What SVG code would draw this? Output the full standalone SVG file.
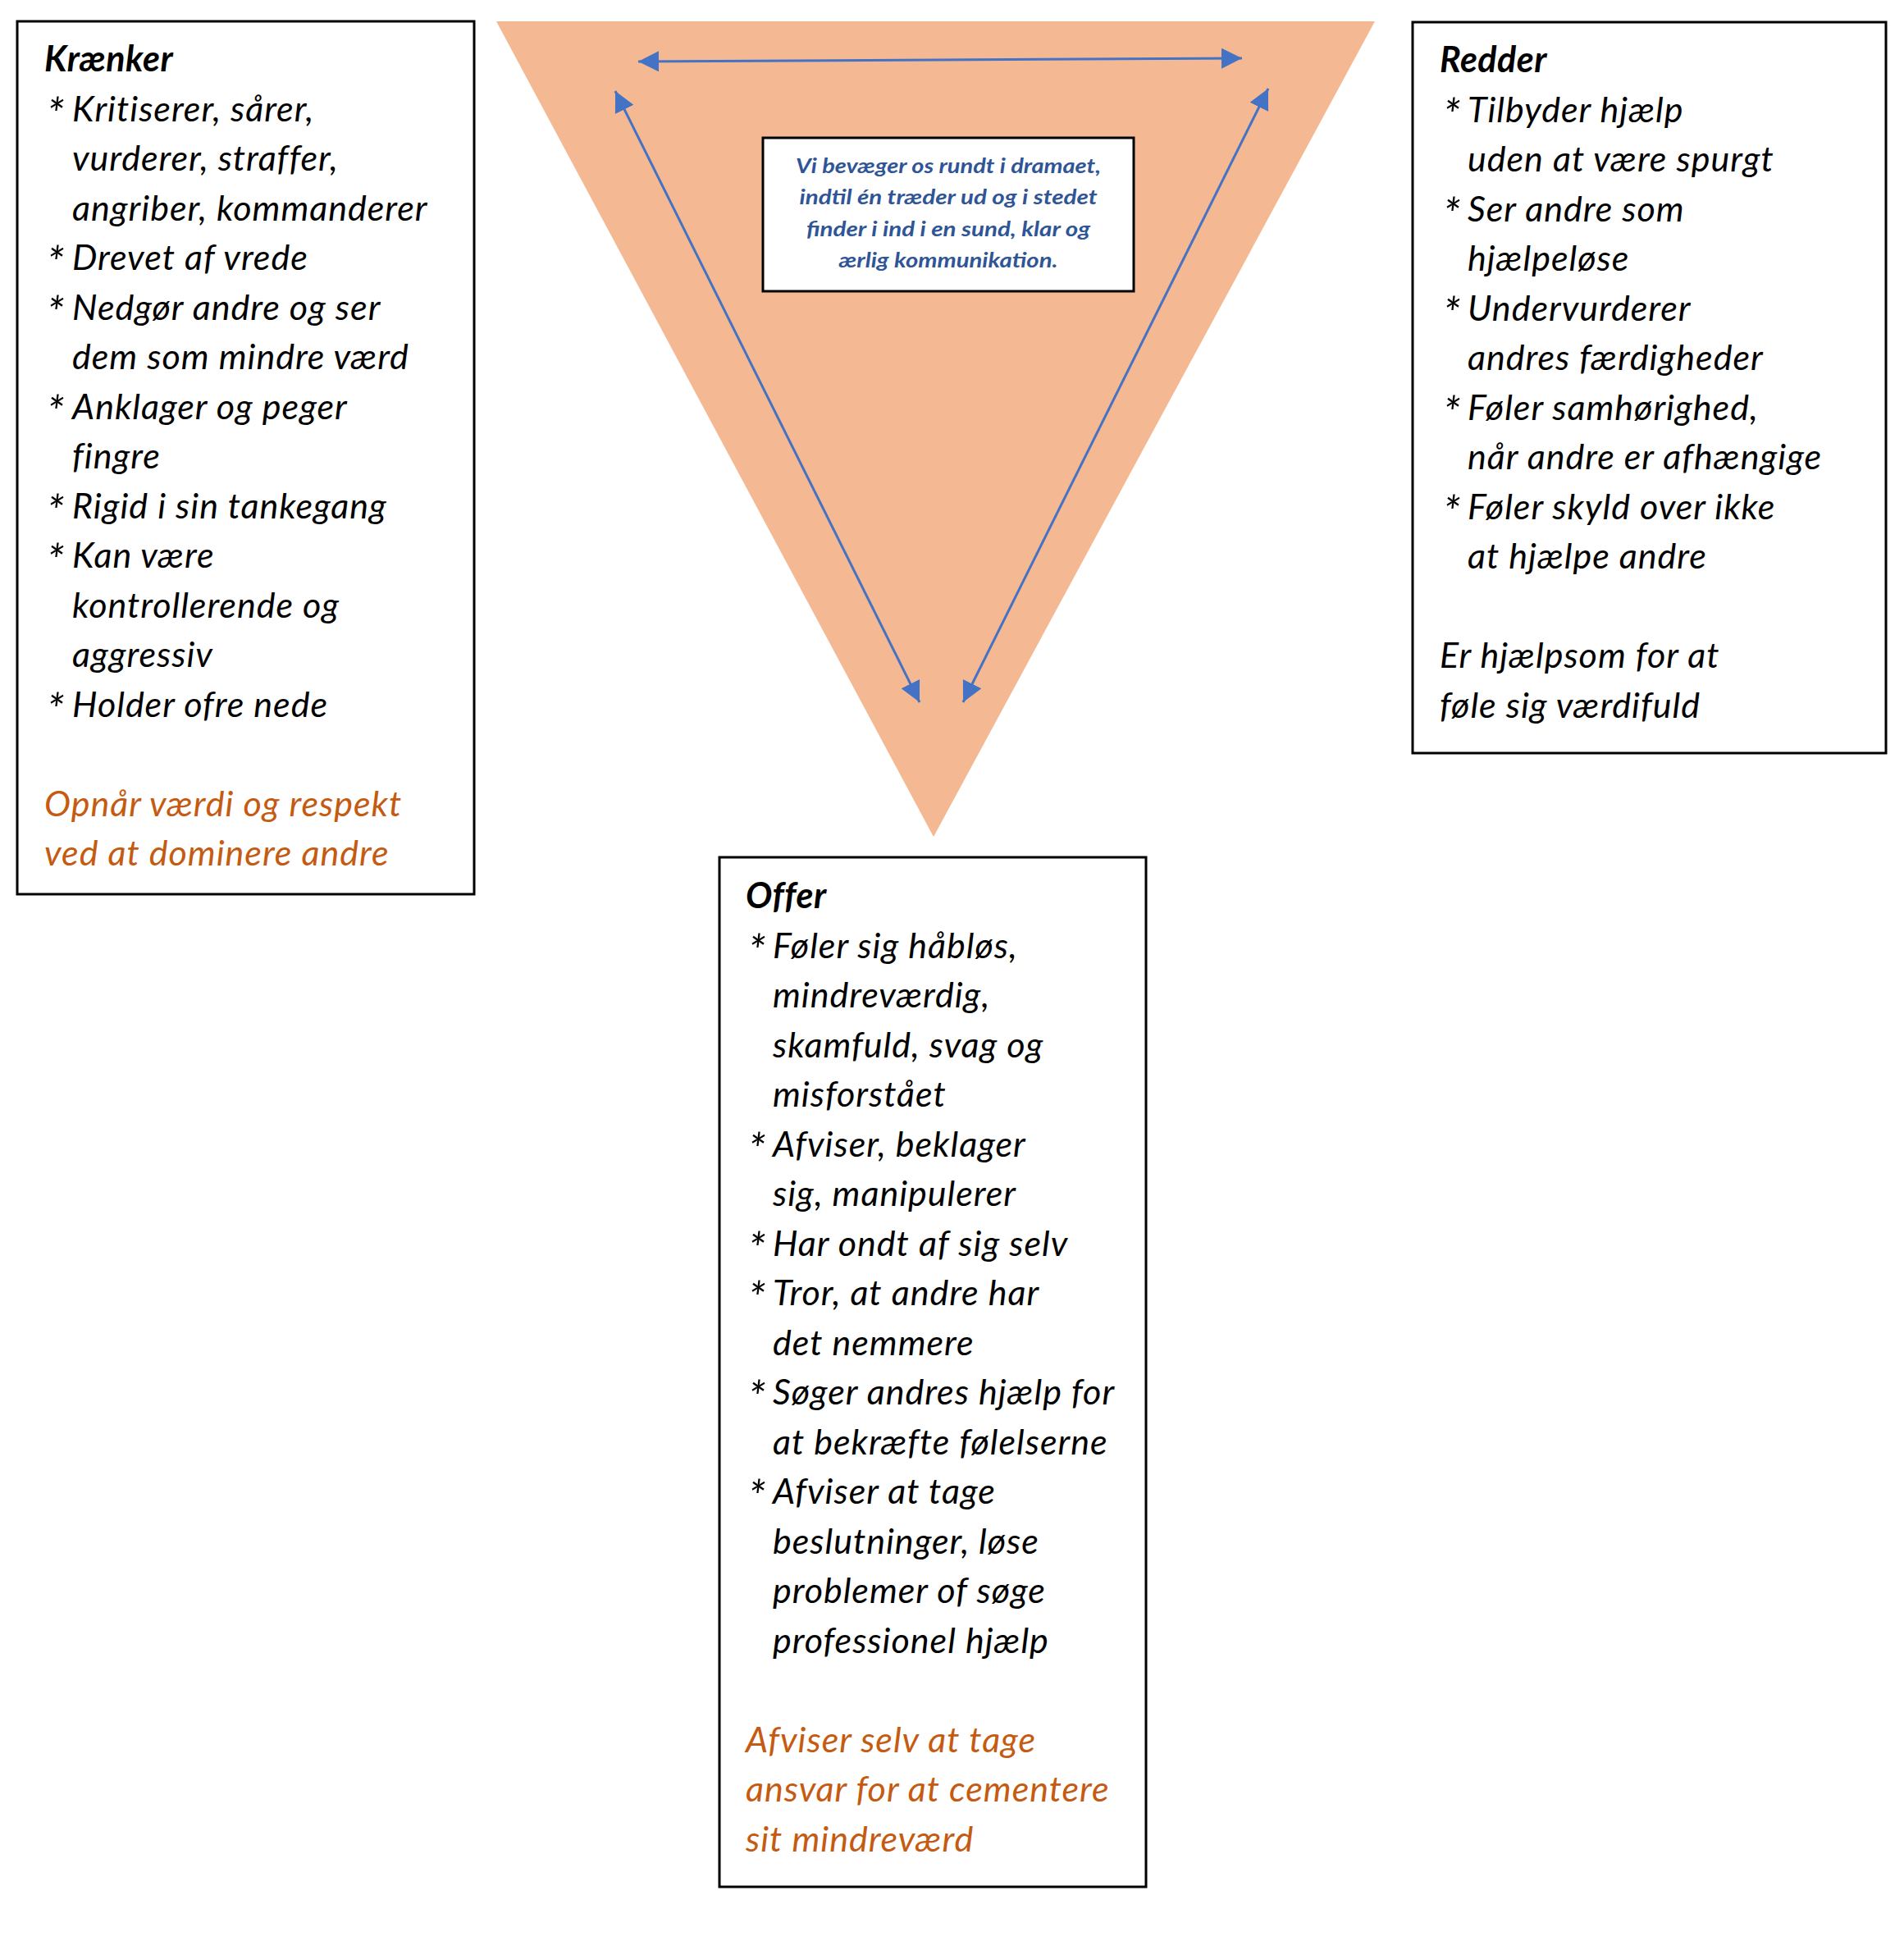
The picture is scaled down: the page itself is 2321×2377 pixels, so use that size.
<svg xmlns="http://www.w3.org/2000/svg" width="2321" height="2377" viewBox="0 0 2321 2377">
<defs>
<style>
.box{fill:#fff;stroke:#000;stroke-width:3}
.t{font-family:Lato,"Open Sans","Liberation Sans",sans-serif;font-style:italic;font-size:43px;letter-spacing:1px;fill:#000}
.s{font-size:54px;letter-spacing:0}
.b{font-weight:bold;letter-spacing:0.5px}
.o{fill:#C55A11}
.c{font-family:Lato,"Open Sans","Liberation Sans",sans-serif;font-style:italic;font-weight:bold;font-size:24px;fill:#2F5597;text-anchor:middle}
.arrow{stroke:#4472C4;stroke-width:3;fill:none}
</style>
<marker id="ah" viewBox="0 0 25 25" refX="25" refY="12.5" markerWidth="25" markerHeight="25" markerUnits="userSpaceOnUse" orient="auto-start-reverse">
<path d="M0,0 L25,12.5 L0,25 z" fill="#4472C4"/>
</marker>
</defs>
<rect width="2321" height="2377" fill="#fff"/>
<g id="triangle">
<polygon points="605,26 1676,26 1138,1020" fill="#F4B993"/>
</g>
<g id="connectors">
<line class="arrow" x1="778" y1="75" x2="1514" y2="71" stroke="#5068AC" marker-start="url(#ah)" marker-end="url(#ah)"/>
<line class="arrow" x1="750" y1="111" x2="1121" y2="856" marker-start="url(#ah)" marker-end="url(#ah)"/>
<line class="arrow" x1="1546" y1="108" x2="1174" y2="856" marker-start="url(#ah)" marker-end="url(#ah)"/>
</g>
<g id="center-note">
<rect x="930" y="168" width="452" height="187" class="box"/>
<text class="c" x="1156" y="211" textLength="372" lengthAdjust="spacingAndGlyphs">Vi bevæger os rundt i dramaet,</text>
<text class="c" x="1156" y="249" textLength="363" lengthAdjust="spacingAndGlyphs">indtil én træder ud og i stedet</text>
<text class="c" x="1156" y="288" textLength="346" lengthAdjust="spacingAndGlyphs">finder i ind i en sund, klar og</text>
<text class="c" x="1156" y="326" textLength="267" lengthAdjust="spacingAndGlyphs">ærlig kommunikation.</text>
</g>
<g id="kraenker">
<rect x="21" y="26" width="557" height="1064" class="box"/>
<text class="t b" x="54" y="87">Krænker</text>
<text class="t" x="57" y="158.5"><tspan class="s">*</tspan> <tspan x="88" y="147.5">Kritiserer, sårer,</tspan></text>
<text class="t" x="88" y="208">vurderer, straffer,</text>
<text class="t" x="88" y="268.5">angriber, kommanderer</text>
<text class="t" x="57" y="340"><tspan class="s">*</tspan> <tspan x="88" y="329">Drevet af vrede</tspan></text>
<text class="t" x="57" y="400.5"><tspan class="s">*</tspan> <tspan x="88" y="389.5">Nedgør andre og ser</tspan></text>
<text class="t" x="88" y="450">dem som mindre værd</text>
<text class="t" x="57" y="521.5"><tspan class="s">*</tspan> <tspan x="88" y="510.5">Anklager og peger</tspan></text>
<text class="t" x="88" y="571">fingre</text>
<text class="t" x="57" y="642.5"><tspan class="s">*</tspan> <tspan x="88" y="631.5">Rigid i sin tankegang</tspan></text>
<text class="t" x="57" y="703"><tspan class="s">*</tspan> <tspan x="88" y="692">Kan være</tspan></text>
<text class="t" x="88" y="752.5">kontrollerende og</text>
<text class="t" x="88" y="813">aggressiv</text>
<text class="t" x="57" y="884.5"><tspan class="s">*</tspan> <tspan x="88" y="873.5">Holder ofre nede</tspan></text>
<text class="t o" x="54" y="994.5">Opnår værdi og respekt</text>
<text class="t o" x="54" y="1055">ved at dominere andre</text>
</g>
<g id="redder">
<rect x="1722" y="27" width="577" height="891" class="box"/>
<text class="t b" x="1755" y="88">Redder</text>
<text class="t" x="1759" y="159.5"><tspan class="s">*</tspan> <tspan x="1789" y="148.5">Tilbyder hjælp</tspan></text>
<text class="t" x="1789" y="209">uden at være spurgt</text>
<text class="t" x="1759" y="280.5"><tspan class="s">*</tspan> <tspan x="1789" y="269.5">Ser andre som</tspan></text>
<text class="t" x="1789" y="330">hjælpeløse</text>
<text class="t" x="1759" y="401.5"><tspan class="s">*</tspan> <tspan x="1789" y="390.5">Undervurderer</tspan></text>
<text class="t" x="1789" y="451">andres færdigheder</text>
<text class="t" x="1759" y="522.5"><tspan class="s">*</tspan> <tspan x="1789" y="511.5">Føler samhørighed,</tspan></text>
<text class="t" x="1789" y="572">når andre er afhængige</text>
<text class="t" x="1759" y="643.5"><tspan class="s">*</tspan> <tspan x="1789" y="632.5">Føler skyld over ikke</tspan></text>
<text class="t" x="1789" y="693">at hjælpe andre</text>
<text class="t" x="1755" y="814">Er hjælpsom for at</text>
<text class="t" x="1755" y="874.5">føle sig værdifuld</text>
</g>
<g id="offer">
<rect x="877" y="1045" width="520" height="1255" class="box"/>
<text class="t b" x="909" y="1107">Offer</text>
<text class="t" x="912" y="1178.5"><tspan class="s">*</tspan> <tspan x="942" y="1167.5">Føler sig håbløs,</tspan></text>
<text class="t" x="942" y="1228">mindreværdig,</text>
<text class="t" x="942" y="1288.5">skamfuld, svag og</text>
<text class="t" x="942" y="1349">misforstået</text>
<text class="t" x="912" y="1420.5"><tspan class="s">*</tspan> <tspan x="942" y="1409.5">Afviser, beklager</tspan></text>
<text class="t" x="942" y="1470">sig, manipulerer</text>
<text class="t" x="912" y="1541.5"><tspan class="s">*</tspan> <tspan x="942" y="1530.5">Har ondt af sig selv</tspan></text>
<text class="t" x="912" y="1602"><tspan class="s">*</tspan> <tspan x="942" y="1591">Tror, at andre har</tspan></text>
<text class="t" x="942" y="1651.5">det nemmere</text>
<text class="t" x="912" y="1723"><tspan class="s">*</tspan> <tspan x="942" y="1712">Søger andres hjælp for</tspan></text>
<text class="t" x="942" y="1772.5">at bekræfte følelserne</text>
<text class="t" x="912" y="1844"><tspan class="s">*</tspan> <tspan x="942" y="1833">Afviser at tage</tspan></text>
<text class="t" x="942" y="1893.5">beslutninger, løse</text>
<text class="t" x="942" y="1954">problemer of søge</text>
<text class="t" x="942" y="2014.5">professionel hjælp</text>
<text class="t o" x="909" y="2135.5">Afviser selv at tage</text>
<text class="t o" x="909" y="2196">ansvar for at cementere</text>
<text class="t o" x="909" y="2256.5">sit mindreværd</text>
</g>
</svg>
